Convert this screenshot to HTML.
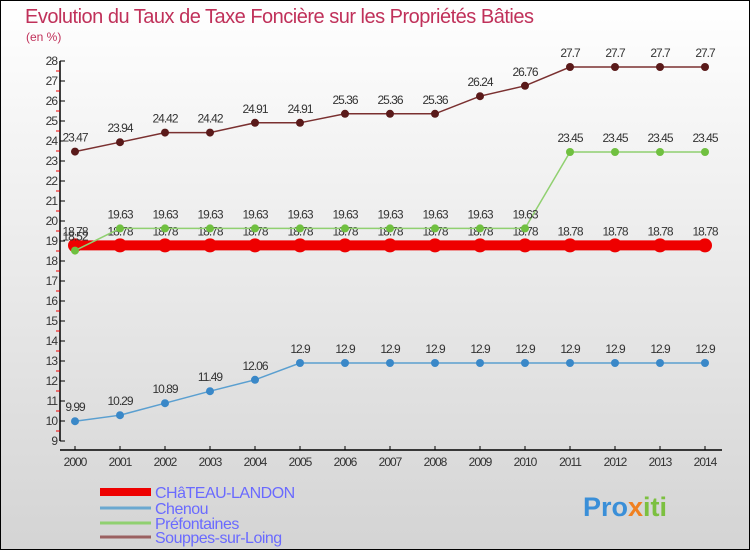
<!DOCTYPE html>
<html><head><meta charset="utf-8"><style>
body{margin:0;}
#c{width:750px;height:550px;position:relative;overflow:hidden;}
svg text{font-family:"Liberation Sans",sans-serif;}
</style></head><body>
<div id="c">
<svg id="s" width="750" height="550" xmlns="http://www.w3.org/2000/svg">
<defs><linearGradient id="bg" x1="0" y1="0" x2="0" y2="1"><stop offset="0" stop-color="#ffffff"/><stop offset="1" stop-color="#d4d4d4"/></linearGradient></defs>
<rect x="0.5" y="0.5" width="749" height="549" fill="url(#bg)" stroke="#000"/>
<text x="25" y="23" font-size="20" fill="#c0315a" letter-spacing="-0.5">Evolution du Taux de Taxe Foncière sur les Propriétés Bâties</text>
<text x="26" y="41" font-size="12" fill="#c0315a">(en %)</text>
<g id="axes"></g><g id="series"></g><g id="legend"></g>
<text x="583" y="516" font-size="27" font-weight="bold" fill="#3a8fd8">Pro<tspan fill="#f08020">x</tspan><tspan fill="#7cc040">iti</tspan></text>
</svg></div>
<script>
const years=[2000,2001,2002,2003,2004,2005,2006,2007,2008,2009,2010,2011,2012,2013,2014];
const yTicks=[9,10,11,12,13,14,15,16,17,18,19,20,21,22,23,24,25,26,27,28];
const chateau=[18.78,18.78,18.78,18.78,18.78,18.78,18.78,18.78,18.78,18.78,18.78,18.78,18.78,18.78,18.78];
const chenou=[9.99,10.29,10.89,11.49,12.06,12.9,12.9,12.9,12.9,12.9,12.9,12.9,12.9,12.9,12.9];
const prefontaines=[18.52,19.63,19.63,19.63,19.63,19.63,19.63,19.63,19.63,19.63,19.63,23.45,23.45,23.45,23.45];
const souppes=[23.47,23.94,24.42,24.42,24.91,24.91,25.36,25.36,25.36,26.24,26.76,27.7,27.7,27.7,27.7];
const seriesNames=["CHâTEAU-LANDON","Chenou","Préfontaines","Souppes-sur-Loing"];
const NS="http://www.w3.org/2000/svg";
const xS=i=>75+i*45;
const yS=v=>61+(28-v)*20;
function mk(tag,attrs,parent){const e=document.createElementNS(NS,tag);for(const k in attrs)e.setAttribute(k,attrs[k]);parent.appendChild(e);return e;}
const ax=document.getElementById('axes');
let a=mk('line',{x1:60,y1:yS(28),x2:60,y2:yS(9),stroke:'#000','stroke-width':1.5},ax);


a=mk('line',{x1:60,y1:450,x2:722,y2:450,stroke:'#000','stroke-width':1.5},ax);


yTicks.forEach(v=>{
 mk('line',{x1:60,y1:yS(v),x2:65,y2:yS(v),stroke:'#000'},ax);
 if(v<28) mk('line',{x1:56,y1:yS(v+0.5),x2:60,y2:yS(v+0.5),stroke:'#e00'},ax);
 const t=mk('text',{x:57,y:yS(v)+4,'font-size':12,'text-anchor':'end',fill:'#333','letter-spacing':'-1'},ax);
 t.textContent=v;
 
 
});
years.forEach((y,i)=>{
 mk('line',{x1:xS(i),y1:446,x2:xS(i),y2:450,stroke:'#000'},ax);
 const t=mk('text',{x:xS(i),y:466,'font-size':12,'text-anchor':'middle',fill:'#333','letter-spacing':'-1'},ax);
 t.textContent=y;
 
 
});
const sg=document.getElementById('series');
function drawSeries(vals,color,ptFill,w,r,name){
 const g=mk('g',{},sg);
 
 
 mk('polyline',{points:vals.map((v,i)=>xS(i)+','+yS(v)).join(' '),fill:'none',stroke:color,'stroke-width':w},g);
 vals.forEach((v,i)=>{
  const c=mk('circle',{cx:xS(i),cy:yS(v),r:r,fill:ptFill,stroke:'none'},g);
  
  
 });
 vals.forEach((v,i)=>{
  const t=mk('text',{x:xS(i),y:yS(v)-10,'font-size':12,'text-anchor':'middle',fill:'#333','letter-spacing':'-1'},g);
  t.textContent=String(v).replace(/^(\d+\.\d)$/,'$1').replace('.','.');
  
  
 });
}
drawSeries(chenou,'#5a9fd0','#3a88c8',1.5,4,'chenou-series');
drawSeries(souppes,'#7a3030','#5a1a1a',1.5,4,'souppes-series');
drawSeries(chateau,'#ee0000','#ee0000',10,7,'chateau-landon-series');
drawSeries(prefontaines,'#90d070','#70c040',1.5,4,'prefontaines-series');
const lg=document.getElementById('legend');
const lc=['#ee0000','#6aa8d0','#90d070','#9a6060'];
const lw=[8,3,3,3];
const ly=[492,508,523,537];
seriesNames.forEach((n,i)=>{
 const g=mk('g',{},lg);
 
 
 mk('line',{x1:100,y1:ly[i],x2:151,y2:ly[i],stroke:lc[i],'stroke-width':lw[i]},g);
 const t=mk('text',{x:155,y:ly[i]+6,'font-size':16,fill:'#6a6aff','letter-spacing':'-0.5'},g);
 t.textContent=n;
});
</script>
</body></html>
